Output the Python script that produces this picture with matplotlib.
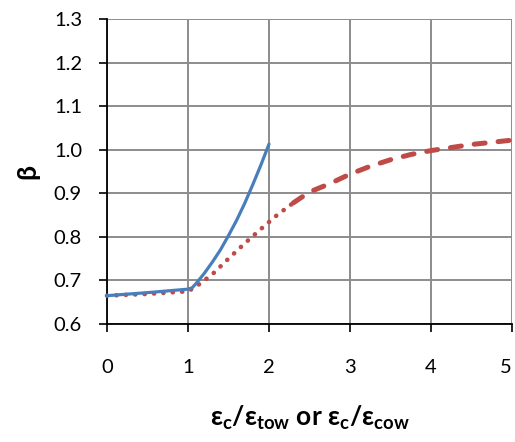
import numpy as np
import matplotlib as mpl
import matplotlib.pyplot as plt

mpl.rcParams['font.family'] = ['Lato', 'DejaVu Sans']
mpl.rcParams['mathtext.fontset'] = 'custom'
mpl.rcParams['mathtext.rm'] = 'Lato'
mpl.rcParams['mathtext.bf'] = 'Lato:bold'

# solid blue curve
blue_x = [0.0, 0.5, 1.0, 1.05, 1.1, 1.2, 1.3, 1.4, 1.5, 1.6, 1.7, 1.8, 1.9, 2.0]
blue_y = [0.665, 0.672, 0.680, 0.683, 0.693, 0.716, 0.742, 0.770, 0.803,
          0.838, 0.877, 0.920, 0.965, 1.013]

# red curve, dotted part
red_dot_x = [0.0, 0.5, 1.0, 1.1, 1.3, 1.5, 1.7, 1.9, 2.1, 2.3]
red_dot_y = [0.665, 0.669, 0.675, 0.686, 0.714, 0.750, 0.785, 0.818, 0.850, 0.878]

# red curve, dashed part
red_dash_x = [2.3, 2.5, 2.75, 3.0, 3.25, 3.5, 3.75, 4.0, 4.5, 5.0]
red_dash_y = [0.878, 0.903, 0.922, 0.944, 0.962, 0.977, 0.989, 0.998, 1.012, 1.022]

x_ticks = [0, 1, 2, 3, 4, 5]
y_ticks = [0.6, 0.7, 0.8, 0.9, 1.0, 1.1, 1.2, 1.3]

blue = '#4A7EBB'
red = '#BE4B48'

fig = plt.figure(figsize=(5.15, 4.42), dpi=100)
ax = fig.add_axes([107/515, 1-324/442, 405/515, 305/442])

ax.plot(red_dot_x, red_dot_y, color=red, lw=3.3, ls=(0, (0.05, 2.0)),
        dash_capstyle='round', solid_capstyle='round', clip_on=False, zorder=3)
ax.plot(red_dash_x, red_dash_y, color=red, lw=3.6, ls=(0, (2.2, 2.6)),
        dash_capstyle='round', clip_on=False, zorder=3)
ax.plot(blue_x, blue_y, color=blue, lw=2.3, solid_capstyle='round',
        clip_on=False, zorder=4)

ax.set_xlim(0, 5)
ax.set_ylim(0.6, 1.3)
ax.set_xticks(x_ticks)
ax.set_yticks(y_ticks)
ax.set_yticklabels(['%.1f' % v for v in y_ticks])
ax.grid(True, color='#8C8C8C', lw=1.4)
ax.set_axisbelow(True)

for s in ('top', 'right'):
    ax.spines[s].set_visible(False)
for s in ('left', 'bottom'):
    ax.spines[s].set_linewidth(1.3)
ax.tick_params(axis='both', direction='out', length=6, width=1.2,
               labelsize=14.5)
ax.tick_params(axis='y', pad=12)
ax.tick_params(axis='x', pad=19)
# last x label sits right at the figure edge, pull it in a bit
xl = ax.get_xticklabels()
xl[-1].set_horizontalalignment('right')

ax.set_xlabel(r'$\mathbf{\epsilon_c/\epsilon_{tow}}$ or $\mathbf{\epsilon_c/\epsilon_{cow}}$',
              fontsize=19, fontweight='bold', labelpad=20)
ax.set_ylabel('β', fontsize=19, fontweight='bold', labelpad=10)

plt.savefig('out.png', dpi=100)
